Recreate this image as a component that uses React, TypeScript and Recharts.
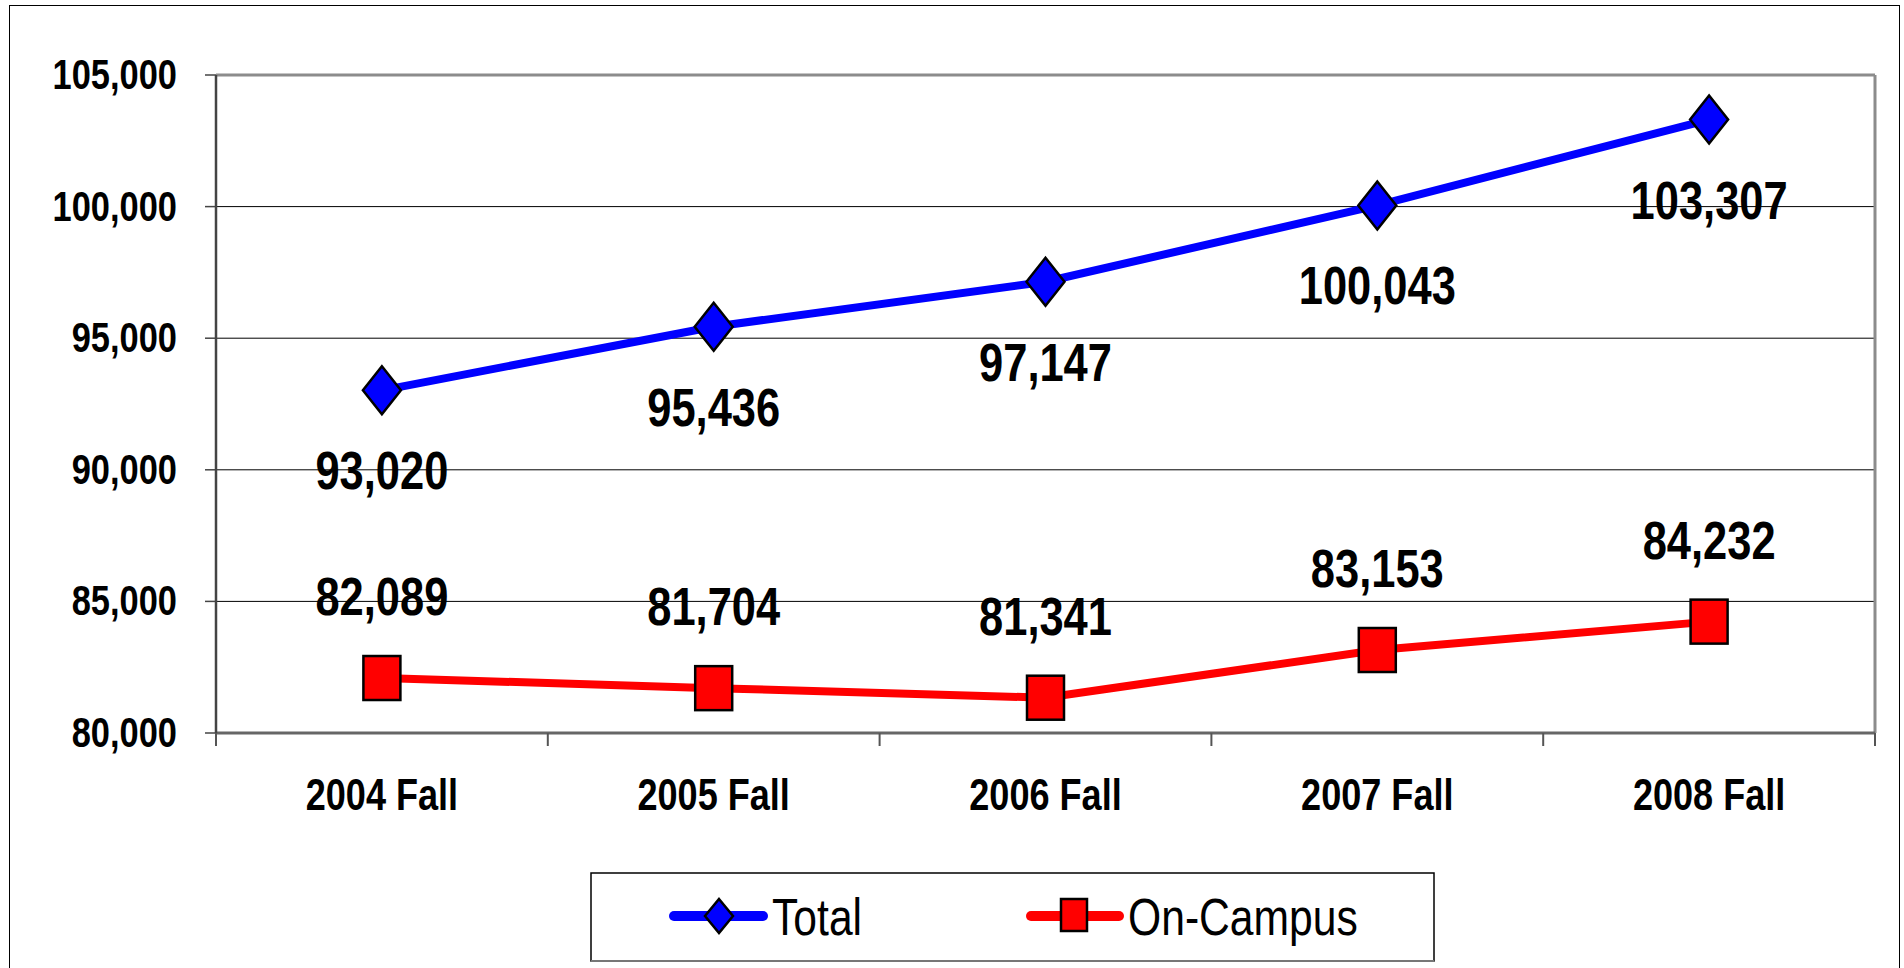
import React from 'react';
import {
  LineChart, Line, XAxis, YAxis, CartesianGrid, LabelList, Legend,
} from 'recharts';

const categories = ['2004 Fall', '2005 Fall', '2006 Fall', '2007 Fall', '2008 Fall'];
const totalValues = [93020, 95436, 97147, 100043, 103307];
const onCampusValues = [82089, 81704, 81341, 83153, 84232];
const yTicks = [80000, 85000, 90000, 95000, 100000, 105000];
const seriesNames = ['Total', 'On-Campus'];

const FONT = "'Liberation Sans', Arial, sans-serif";
const SQUEEZE = 0.82;

const data = categories.map((name, i) => ({
  pos: i + 0.5,
  name,
  total: totalValues[i],
  onCampus: onCampusValues[i],
}));

const xTicks: number[] = [];
for (let i = 0; i <= categories.length; i++) {
  xTicks.push(i);
  if (i < categories.length) xTicks.push(i + 0.5);
}

const fmt = (v: number) => Number(v).toLocaleString('en-US');

const NarrowText = ({ x, y, anchor = 'middle', size, bold = true, children }: any) => (
  <g transform={`translate(${x},${y}) scale(${SQUEEZE},1)`}>
    <text x={0} y={0} textAnchor={anchor} fontFamily={FONT} fontWeight={bold ? 'bold' : 'normal'} fontSize={size} fill="#000">
      {children}
    </text>
  </g>
);

const CatTick = (props: any) => {
  const { x, y, payload } = props;
  const v = payload.value;
  if (Number.isInteger(v)) {
    return <line x1={x} x2={x} y1={y - 13} y2={y} stroke="#555" strokeWidth={2} />;
  }
  return <NarrowText x={x} y={y + 64} size={44}>{categories[Math.floor(v)]}</NarrowText>;
};

const ValTick = (props: any) => {
  const { x, y, payload } = props;
  return <NarrowText x={x} y={y + 14} anchor="end" size={42}>{fmt(payload.value)}</NarrowText>;
};

const Diamond = (props: any) => {
  const { cx, cy, index } = props;
  if (cx == null || cy == null) return <g key={`d${index}`} />;
  const hw = 19, hh = 24;
  return (
    <polygon
      key={`d${index}`}
      points={`${cx},${cy - hh} ${cx + hw},${cy} ${cx},${cy + hh} ${cx - hw},${cy}`}
      fill="#0000FF"
      stroke="#000"
      strokeWidth={2.5}
    />
  );
};

const Square = (props: any) => {
  const { cx, cy, index } = props;
  if (cx == null || cy == null) return <g key={`s${index}`} />;
  const w = 37, h = 44;
  return (
    <rect key={`s${index}`} x={cx - w / 2} y={cy - h / 2} width={w} height={h}
      fill="#FF0000" stroke="#000" strokeWidth={2.5} />
  );
};

const TotalLabel = (props: any) => {
  const { x, y, value } = props;
  return <NarrowText x={x} y={y + 99} size={53}>{fmt(value)}</NarrowText>;
};

const CampusLabel = (props: any) => {
  const { x, y, value } = props;
  return <NarrowText x={x} y={y - 63} size={53}>{fmt(value)}</NarrowText>;
};

const LegendContent = () => (
  <div style={{ position: 'relative', width: 0, height: 0 }}>
    <svg width={845} height={92} style={{ position: 'absolute', left: 590, top: 872, overflow: 'visible' }}>
      <rect x={1} y={1} width={843} height={88} fill="#fff" stroke="#000" strokeWidth={1.5} />
      <line x1={1} x2={844} y1={89} y2={89} stroke="#777" strokeWidth={2} />
      <line x1={84} x2={173} y1={44} y2={44} stroke="#0000FF" strokeWidth={10} strokeLinecap="round" />
      <polygon points="129,27 143,44 129,61 115,44" fill="#0000FF" stroke="#000" strokeWidth={2.5} />
      <NarrowText x={182} y={63} anchor="start" size={52} bold={false}>{seriesNames[0]}</NarrowText>
      <line x1={441} x2={529} y1={44} y2={44} stroke="#FF0000" strokeWidth={10} strokeLinecap="round" />
      <rect x={471} y={27} width={26} height={32} fill="#FF0000" stroke="#000" strokeWidth={2.5} />
      <NarrowText x={538} y={63} anchor="start" size={52} bold={false}>{seriesNames[1]}</NarrowText>
    </svg>
  </div>
);

export default function App() {
  return (
    <div style={{ position: 'absolute', left: 0, top: 0, width: 1904, height: 968, background: '#fff', overflow: 'hidden' }}>
      <div style={{ position: 'absolute', left: 9, top: 5, width: 1889, height: 980, borderLeft: '1.5px solid #000', borderTop: '1.5px solid #000', borderRight: '1.5px solid #000' }} />
      <div style={{ position: 'absolute', left: 0, top: 0 }}>
        <LineChart width={1904} height={968} data={data} margin={{ top: 75, right: 29, left: 0, bottom: 175 }}>
          <CartesianGrid vertical={false} stroke="#000" strokeWidth={1} />
          <CartesianGrid
            stroke="#8c8c8c"
            strokeWidth={3}
            horizontalCoordinatesGenerator={({ offset }: any) => [offset.top]}
            verticalCoordinatesGenerator={({ offset }: any) => [offset.left + offset.width]}
          />
          <XAxis
            dataKey="pos"
            type="number"
            domain={[0, categories.length]}
            ticks={xTicks}
            interval={0}
            tickLine={false}
            tickSize={13}
            tickMargin={0}
            height={60}
            axisLine={{ stroke: '#666', strokeWidth: 3 }}
            tick={<CatTick />}
          />
          <YAxis
            type="number"
            domain={[80000, 105000]}
            ticks={yTicks}
            interval={0}
            width={216}
            tickSize={11}
            tickMargin={28}
            tickFormatter={fmt}
            axisLine={{ stroke: '#444', strokeWidth: 2.5 }}
            tickLine={{ stroke: '#444', strokeWidth: 1.5 }}
            tick={<ValTick />}
          />
          <Legend content={<LegendContent />} wrapperStyle={{ left: 0, top: 0, width: 0, height: 0 }} />
          <Line
            type="linear"
            dataKey="total"
            name={seriesNames[0]}
            stroke="#0000FF"
            strokeWidth={8}
            dot={Diamond}
            activeDot={false}
            isAnimationActive={false}
          >
            <LabelList dataKey="total" content={TotalLabel} />
          </Line>
          <Line
            type="linear"
            dataKey="onCampus"
            name={seriesNames[1]}
            stroke="#FF0000"
            strokeWidth={8}
            dot={Square}
            activeDot={false}
            isAnimationActive={false}
          >
            <LabelList dataKey="onCampus" content={CampusLabel} />
          </Line>
        </LineChart>
      </div>
    </div>
  );
}
